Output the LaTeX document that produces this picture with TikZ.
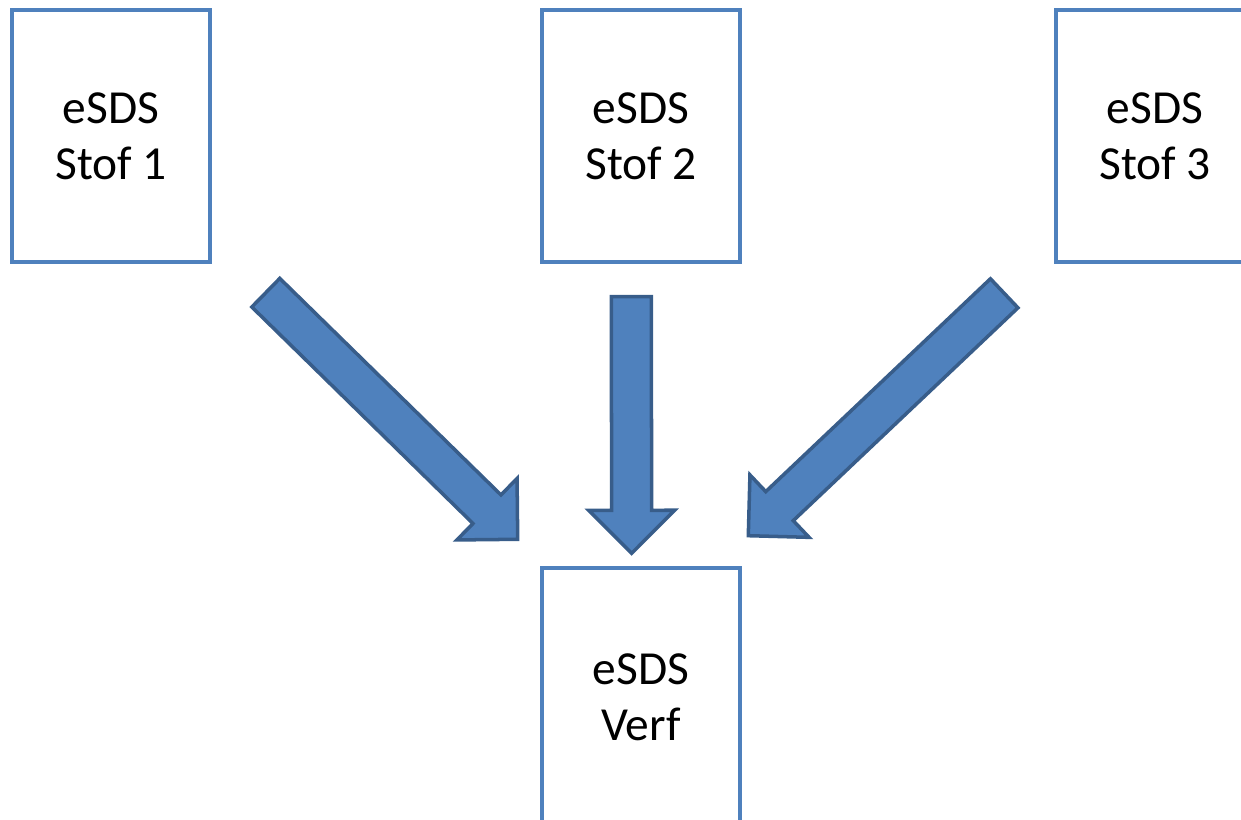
\documentclass[tikz,border=0pt]{standalone}
\usepackage{fontspec}
\setmainfont{Carlito}
\usetikzlibrary{calc}
\definecolor{doosrand}{HTML}{4F81BD}
\definecolor{pijlvul}{HTML}{4F81BD}
\definecolor{pijlrand}{HTML}{385D8A}
\tikzset{
  doos/.style={draw=doosrand,line width=2.4pt,minimum width=3.96cm,minimum height=5.04cm,
    align=center,font=\fontsize{27}{32}\selectfont},
  blokpijl/.style={draw=pijlrand,fill=pijlvul,line width=2pt,line join=miter}
}

\begin{document}
\begin{tikzpicture}[x=0.02cm,y=-0.02cm]
\clip (0,0)rectangle(1241,820);
% de vier vakken
\node[doos](stof1) at (111,136){eSDS\\Stof 1};
\node[doos](stof2) at (641,136){eSDS\\Stof 2};
\node[doos](stof3) at (1155,136){eSDS\\Stof 3};
\node[doos,minimum height=5.16cm](verf) at (641,697){eSDS\\Verf};
% begin- en eindpunten van de pijlen
\coordinate (t1) at (265.8,292.7); \coordinate (e1) at (517.7,539.3);
\coordinate (t2) at (631.3,296.7); \coordinate (e2) at (631.7,553.3);
\coordinate (t3) at (1004.2,293.3); \coordinate (e3) at (748.3,535.7);
\foreach \n in {1,2,3}{
  \coordinate (h\n) at ($(e\n)!0.86cm!(t\n)$);
  \draw[blokpijl] ($(t\n)!0.4cm!90:(e\n)$)--($(h\n)!0.4cm!90:(e\n)$)--($(h\n)!0.86cm!90:(e\n)$)
    --(e\n)--($(h\n)!0.86cm!-90:(e\n)$)--($(h\n)!0.4cm!-90:(e\n)$)--($(t\n)!0.4cm!-90:(e\n)$)--cycle;
}
\end{tikzpicture}
\end{document}
